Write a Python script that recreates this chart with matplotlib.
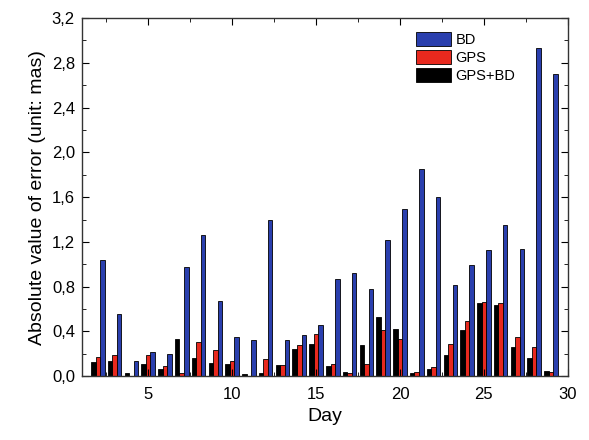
import matplotlib.pyplot as plt
import numpy as np
from matplotlib.ticker import MultipleLocator, FuncFormatter

plt.rcParams['font.family'] = ['Liberation Sans', 'DejaVu Sans']

days = np.arange(2, 30)
bd = [1.04, 0.555, 0.137, 0.218, 0.20, 0.976, 1.26, 0.67, 0.352,
      0.32, 1.40, 0.32, 0.364, 0.454, 0.866, 0.925, 0.776, 1.218, 1.49,
      1.85, 1.597, 0.815, 0.997, 1.128, 1.35, 1.14, 2.93, 2.70]
gps = [0.17, 0.185, 0.0, 0.185, 0.095, 0.03, 0.31, 0.233, 0.14,
       0.0, 0.15, 0.10, 0.28, 0.38, 0.11, 0.03, 0.113, 0.41, 0.334,
       0.036, 0.08, 0.287, 0.49, 0.666, 0.654, 0.352, 0.263, 0.036]
gps_bd = [0.125, 0.14, 0.03, 0.107, 0.06, 0.334, 0.164, 0.12, 0.105,
          0.02, 0.03, 0.10, 0.24, 0.284, 0.09, 0.036, 0.275, 0.53, 0.424,
          0.03, 0.066, 0.185, 0.415, 0.65, 0.636, 0.263, 0.167, 0.048]

fig = plt.figure(figsize=(5.89, 4.4), dpi=100)
ax = fig.add_axes([0.139, 0.145, 0.825, 0.814])

w = 0.27
ax.bar(days + w, bd, w, color='#2a3fae', edgecolor='black', linewidth=0.6, label='BD')
ax.bar(days, gps, w, color='#e8291e', edgecolor='black', linewidth=0.6, label='GPS')
ax.bar(days - w, gps_bd, w, color='black', edgecolor='black', linewidth=0.6, label='GPS+BD')

ax.set_xlim(1.05, 30)
ax.set_ylim(0, 3.2)
ax.xaxis.set_major_locator(MultipleLocator(5))
ax.xaxis.set_minor_locator(MultipleLocator(2.5))
ax.yaxis.set_major_locator(MultipleLocator(0.4))
ax.yaxis.set_minor_locator(MultipleLocator(0.2))
ax.yaxis.set_major_formatter(FuncFormatter(lambda v, p: f"{v:.1f}".replace('.', ',')))
ax.tick_params(which='both', direction='in', top=True, right=True, labelsize=12)
ax.tick_params(which='major', length=5)
ax.tick_params(which='minor', length=3)
ax.tick_params(axis='x', pad=8)
ax.tick_params(axis='y', pad=5)
for s in ax.spines.values():
    s.set_linewidth(1.0)
    s.set_color('#333333')

ax.set_xlabel('Day', fontsize=14, labelpad=4)
ax.set_ylabel('Absolute value of error (unit: mas)', fontsize=14, labelpad=4)

ax.legend(loc='upper right', bbox_to_anchor=(0.91, 0.985), frameon=False, fontsize=10.5,
          handlelength=2.4, handleheight=1.1, handletextpad=0.3, labelspacing=0.2,
          borderaxespad=0.2)

plt.savefig('out.png', dpi=100)
